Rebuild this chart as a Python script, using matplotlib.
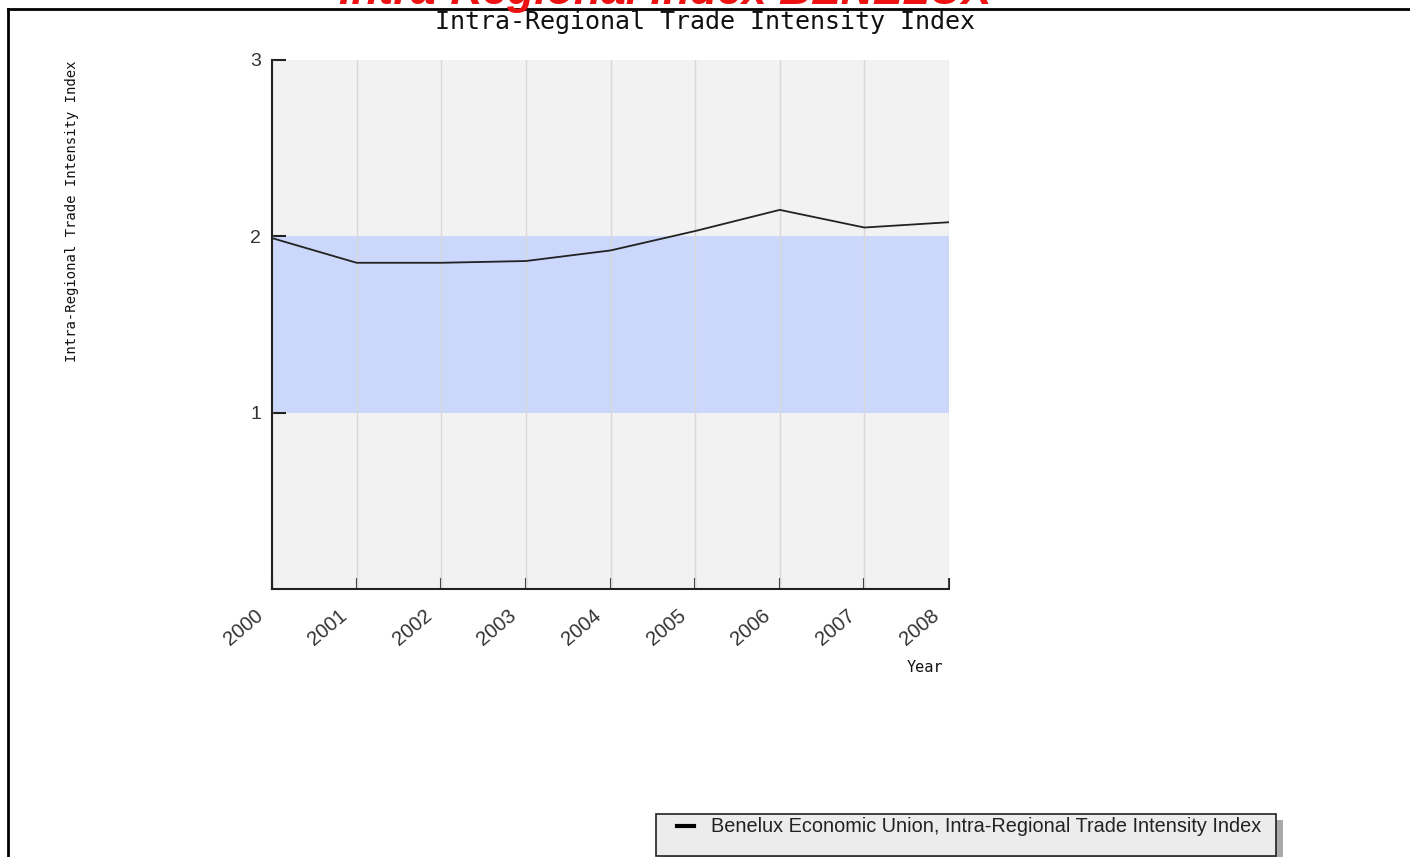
import matplotlib
matplotlib.use("Agg")
import matplotlib.pyplot as plt
from matplotlib.patches import Rectangle
from matplotlib.lines import Line2D
from matplotlib.transforms import ScaledTranslation

years = [2000, 2001, 2002, 2003, 2004, 2005, 2006, 2007, 2008]
values = [1.99, 1.85, 1.85, 1.86, 1.92, 2.03, 2.15, 2.05, 2.08]
year_labels = [str(y) for y in years]
y_ticks = [1, 2, 3]
band_low, band_high = 1, 2
series_name = "Benelux Economic Union, Intra-Regional Trade Intensity Index"

W, H = 1410, 857
fig = plt.figure(figsize=(W / 100, H / 100), dpi=100)
fig.patch.set_facecolor("white")

def fx(px):
    return px / W

def fy(py):
    return 1 - py / H

# outer frame (left and top lines)
fig.add_artist(Line2D([fx(8), fx(8)], [fy(9), 0], color="black", lw=2, transform=fig.transFigure))
fig.add_artist(Line2D([fx(8), 1], [fy(9), fy(9)], color="black", lw=2, transform=fig.transFigure))

# clipped red heading at the very top
fig.text(fx(665), fy(4), "Intra-Regional Index BENELUX", color="#ee1111", fontsize=32,
         fontweight="bold", fontstyle="italic", family="Liberation Sans",
         ha="center", va="baseline", zorder=5)

ax = fig.add_axes([fx(272), fy(589), fx(949) - fx(272), fy(60) - fy(589)])
ax.set_facecolor("#f2f2f2")
ax.set_xlim(years[0], years[-1])
ax.set_ylim(0, 3)

ax.axhspan(band_low, band_high, color="#cbd7fb", zorder=1, lw=0)
for y in years:
    ax.axvline(y, color="#d8d8d8", lw=1, zorder=2)
ax.plot(years, values, color="#222222", lw=1.3, zorder=3)

for s in ["top", "right"]:
    ax.spines[s].set_visible(False)
for s in ["left", "bottom"]:
    ax.spines[s].set_color("#222222")
    ax.spines[s].set_linewidth(1.5)

ax.set_yticks(y_ticks)
ax.set_yticklabels([str(t) for t in y_ticks], fontsize=14, color="#333333", family="Liberation Sans")
ax.set_xticks(years)
ax.set_xticklabels([])
ax.tick_params(axis="y", direction="in", length=10, width=1.5, pad=8, color="#222222")
ax.tick_params(axis="x", direction="in", length=8, width=1.5, color="#222222")

lab_trans = ax.get_xaxis_transform() + ScaledTranslation(-18 / 100, -17 / 100, fig.dpi_scale_trans)
for yr, lab in zip(years, year_labels):
    ax.text(yr, 0, lab, transform=lab_trans, rotation=40, ha="right", va="top",
            rotation_mode="anchor", fontsize=14.5, color="#333333", family="Liberation Sans",
            clip_on=False)

fig.text(fx(705), fy(22), "Intra-Regional Trade Intensity Index", ha="center", va="center",
         fontsize=18, family="DejaVu Sans Mono", color="#111111", zorder=6)
fig.text(fx(72), fy(211), "Intra-Regional Trade Intensity Index", rotation=90,
         ha="center", va="center", fontsize=10, family="DejaVu Sans Mono", color="#111111")
fig.text(fx(925), fy(668), "Year", ha="center", va="center", fontsize=11,
         family="DejaVu Sans Mono", color="#111111")

# legend box with shadow
fig.add_artist(Rectangle((fx(662), fy(862)), fx(1283) - fx(662), fy(820) - fy(862),
                         transform=fig.transFigure, facecolor="#aaaaaa", edgecolor="none"))
fig.add_artist(Rectangle((fx(656), fy(856)), fx(1276) - fx(656), fy(814) - fy(856),
                         transform=fig.transFigure, facecolor="#ececec", edgecolor="#222222", lw=1.2))
fig.add_artist(Line2D([fx(677), fx(694)], [fy(826), fy(826)], color="black", lw=3,
                      transform=fig.transFigure))
fig.text(fx(711), fy(827), series_name, ha="left", va="center", fontsize=14.3,
         family="Liberation Sans", color="#222222")

fig.savefig("out.png", dpi=100)
